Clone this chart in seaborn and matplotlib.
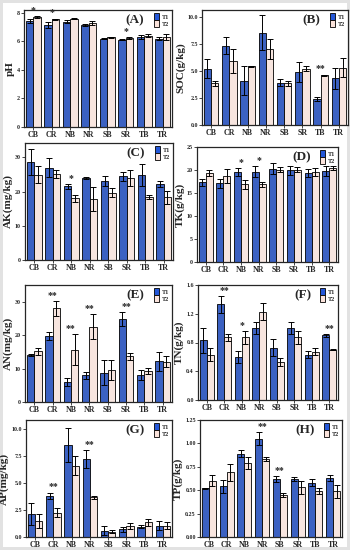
import matplotlib
matplotlib.use("Agg")
import matplotlib.pyplot as plt
import seaborn as sns
import pandas as pd
from matplotlib.patches import Patch

sns.set_style("ticks")
plt.rcParams['font.family'] = ['Liberation Serif', 'DejaVu Serif']
plt.rcParams['font.weight'] = 'bold'

sites = ["CB", "CR", "NB", "NR", "SB", "SR", "TB", "TR"]
groups = ["T1", "T2"]

ph_t1 = [7.45, 7.15, 7.38, 7.15, 6.20, 6.12, 6.30, 6.20]
ph_t2 = [7.70, 7.55, 7.60, 7.28, 6.30, 6.25, 6.40, 6.30]
ph_e1 = [0.15, 0.20, 0.10, 0.08, 0.03, 0.03, 0.15, 0.10]
ph_e2 = [0.05, 0.05, 0.03, 0.15, 0.03, 0.05, 0.10, 0.20]
ph_sig = {0: "*", 1: "*", 5: "*"}

soc_t1 = [5.2, 7.3, 4.1, 8.5, 3.9, 4.9, 2.4, 4.3]
soc_t2 = [3.85, 5.9, 5.4, 7.0, 3.85, 5.2, 4.6, 5.3]
soc_e1 = [0.9, 0.8, 1.3, 1.6, 0.35, 0.9, 0.15, 1.0]
soc_e2 = [0.25, 1.1, 0.05, 0.9, 0.25, 0.2, 0.05, 0.9]
soc_sig = {6: "**"}

ak_t1 = [28.5, 27.0, 21.5, 24.0, 23.0, 24.5, 24.8, 22.2]
ak_t2 = [24.9, 25.1, 18.0, 17.7, 19.7, 23.9, 18.5, 18.3]
ak_e1 = [3.8, 2.7, 0.8, 0.2, 1.5, 1.3, 3.2, 0.8]
ak_e2 = [2.5, 1.2, 1.0, 3.5, 1.4, 2.4, 0.6, 2.0]
ak_sig = {2: "*"}

tk_t1 = [17.3, 17.1, 19.6, 19.6, 20.3, 19.9, 19.4, 19.8]
tk_t2 = [19.4, 18.7, 16.9, 16.9, 20.1, 20.1, 19.5, 20.4]
tk_e1 = [0.7, 1.0, 0.9, 1.2, 1.2, 0.9, 0.9, 1.0]
tk_e2 = [0.7, 1.5, 1.0, 0.5, 0.5, 0.6, 0.9, 0.4]
tk_sig = {2: "*", 3: "*"}

an_t1 = [14.0, 19.7, 6.0, 8.0, 8.8, 24.8, 8.0, 12.2]
an_t2 = [15.2, 28.0, 15.7, 22.5, 9.6, 13.7, 9.3, 12.1]
an_e1 = [0.3, 1.2, 1.3, 1.0, 3.7, 2.0, 1.5, 2.8]
an_e2 = [1.0, 2.2, 4.6, 3.8, 3.0, 1.1, 0.9, 1.7]
an_sig = {1: "**", 2: "**", 3: "**", 5: "**"}

tn_t1 = [0.83, 1.33, 0.60, 1.00, 0.73, 1.00, 0.63, 0.90]
tn_t2 = [0.63, 0.87, 0.87, 1.23, 0.53, 0.87, 0.67, 0.70]
tn_e1 = [0.17, 0.12, 0.08, 0.08, 0.12, 0.08, 0.05, 0.02]
tn_e2 = [0.09, 0.05, 0.09, 0.12, 0.05, 0.09, 0.05, 0.01]
tn_sig = {1: "**", 2: "*", 7: "**"}

ap_t1 = [2.1, 3.8, 8.5, 7.2, 0.6, 0.7, 0.95, 1.05]
ap_t2 = [1.5, 2.25, 6.6, 3.65, 0.5, 1.0, 1.35, 1.05]
ap_e1 = [1.0, 0.3, 1.6, 0.8, 0.4, 0.2, 0.15, 0.4]
ap_e2 = [0.65, 0.4, 0.85, 0.15, 0.15, 0.3, 0.35, 0.35]
ap_sig = {1: "**", 3: "**"}

tp_t1 = [0.52, 0.54, 0.89, 1.05, 0.62, 0.62, 0.58, 0.63]
tp_t2 = [0.60, 0.69, 0.79, 0.83, 0.45, 0.53, 0.49, 0.49]
tp_e1 = [0.005, 0.07, 0.04, 0.07, 0.03, 0.02, 0.04, 0.03]
tp_e2 = [0.06, 0.09, 0.06, 0.02, 0.02, 0.07, 0.03, 0.07]
tp_sig = {3: "**", 4: "**"}

blue = "#2457D8"
pink = "#FBE3DB"

W, H = 350, 550
fig = plt.figure(figsize=(3.5, 5.5), dpi=100)
fig.patch.set_facecolor("white")
fig.patch.set_edgecolor("#e2e2e2")
fig.patch.set_linewidth(3)

# (left, right, top, bottom) in pixels
panels = [
    ("(A)", "pH", ph_t1, ph_t2, ph_e1, ph_e2, ph_sig, 8.2, [0, 2, 4, 6, 8], "{:.0f}", (24, 172, 10, 127)),
    ("(B)", "SOC(g/kg)", soc_t1, soc_t2, soc_e1, soc_e2, soc_sig, 10.6, [0, 2.5, 5, 7.5, 10], "{:.1f}", (202, 348, 10, 125)),
    ("(C)", "AK(mg/kg)", ak_t1, ak_t2, ak_e1, ak_e2, ak_sig, 34.2, [0, 10, 20, 30], "{:.0f}", (25, 173, 143, 260)),
    ("(D)", "TK(g/kg)", tk_t1, tk_t2, tk_e1, tk_e2, tk_sig, 25, [0, 5, 10, 15, 20, 25], "{:.0f}", (197, 338, 147, 262)),
    ("(E)", "AN(mg/kg)", an_t1, an_t2, an_e1, an_e2, an_sig, 35, [0, 10, 20, 30], "{:.0f}", (25, 172, 285, 402)),
    ("(F)", "TN(g/kg)", tn_t1, tn_t2, tn_e1, tn_e2, tn_sig, 1.6, [0, 0.4, 0.8, 1.2, 1.6], "{:.1f}", (198, 338, 285, 400)),
    ("(G)", "AP(mg/kg)", ap_t1, ap_t2, ap_e1, ap_e2, ap_sig, 10.8, [0, 2.5, 5, 7.5, 10], "{:.1f}", (26, 172, 420, 537)),
    ("(H)", "TP(g/kg)", tp_t1, tp_t2, tp_e1, tp_e2, tp_sig, 1.25, [0, 0.25, 0.5, 0.75, 1.0, 1.25], "{:.2f}", (200, 342, 420, 537)),
]

for label, ylab, t1, t2, e1, e2, sig, ymax, yticks, fmt, (l, r, t, b) in panels:
    ax = fig.add_axes([l / W, 1 - b / H, (r - l) / W, (b - t) / H])
    df = pd.DataFrame({
        "site": sites * 2,
        "group": ["T1"] * len(sites) + ["T2"] * len(sites),
        "value": list(t1) + list(t2),
    })
    errs = [list(e1), list(e2)]
    sns.barplot(data=df, x="site", y="value", hue="group", order=sites,
                hue_order=groups, palette=[blue, pink], edgecolor="black",
                linewidth=0.6, errorbar=None, width=0.8, ax=ax)
    bar_conts = list(ax.containers)
    for ci, cont in enumerate(bar_conts):
        xs = [p.get_x() + p.get_width() / 2 for p in cont.patches]
        hs = [p.get_height() for p in cont.patches]
        ax.errorbar(xs, hs, yerr=errs[ci], fmt="none", ecolor="black",
                    elinewidth=0.7, capsize=2.5, capthick=0.7)
    for gi, s in sig.items():
        top = max(t1[gi] + e1[gi], t2[gi] + e2[gi])
        ax.text(gi, top + ymax * 0.01, s, ha="center", va="bottom",
                fontsize=7, fontweight="bold")
    ax.set_ylim(0, ymax)
    ax.set_xlim(-0.5, 7.5)
    ax.set_yticks(yticks)
    ax.set_yticklabels([fmt.format(v) for v in yticks], fontsize=4.3, fontweight="bold")
    ax.set_xticks(range(len(sites)))
    ax.set_xticklabels(sites, fontsize=5.8, fontweight="bold")
    ax.tick_params(axis="both", length=2, width=0.6, pad=1)
    ax.set_xlabel("")
    ax.set_ylabel(ylab, fontsize=8, fontweight="bold", labelpad=1.5)
    for sp in ax.spines.values():
        sp.set_linewidth(0.9)
        sp.set_visible(True)
    leg = ax.get_legend()
    if leg is not None:
        leg.remove()
    handles = [Patch(facecolor=blue, edgecolor="black", linewidth=0.6),
               Patch(facecolor=pink, edgecolor="black", linewidth=0.6)]
    ax.legend(handles, groups, loc="upper right", frameon=False,
              prop={"size": 4.5, "weight": "bold"}, handlelength=0.7,
              handleheight=1.3, labelspacing=0.05, handletextpad=0.5,
              borderaxespad=0.3, borderpad=0.2)
    ax.text(0.81, 0.91, label, transform=ax.transAxes, ha="right", va="center",
            fontsize=9.5, fontweight="bold")

fig.savefig("out.png", dpi=100, facecolor=fig.get_facecolor(), edgecolor=fig.get_edgecolor())
